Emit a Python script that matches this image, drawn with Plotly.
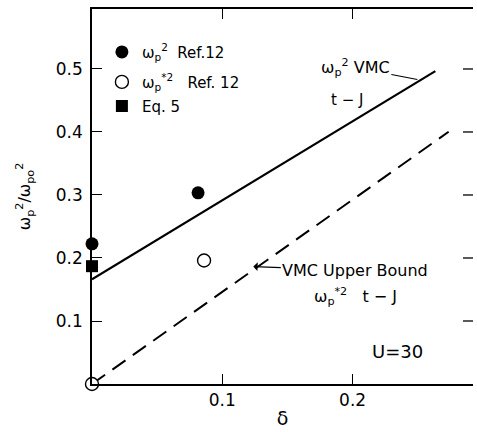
import plotly.graph_objects as go

# ---- data ----
ref12_delta = [0.0, 0.0814]
ref12_w2 = [0.2225, 0.3035]
ref12_star_delta = [0.0, 0.086]
ref12_star_w2 = [0.0, 0.196]
eq5_delta = [0.0]
eq5_w2 = [0.187]
vmc_delta = [0.0, 0.2635]
vmc_w2 = [0.166, 0.4965]
bound_delta = [0.0, 0.2737]
bound_w2 = [0.0, 0.4003]
x_ticks = [0.1, 0.2]
x_ticktext = ["0.1", "0.2"]
y_ticks = [0.1, 0.2, 0.3, 0.4, 0.5]
y_ticktext = ["0.1", "0.2", "0.3", "0.4", "0.5"]

FONT = "DejaVu Sans"
BLACK = "black"
PLOT_W = 381  # plot-area width in px (477 - 92 - 4)

fig = go.Figure()

fig.add_trace(go.Scatter(x=vmc_delta, y=vmc_w2, mode="lines",
                         line=dict(color=BLACK, width=2.2), showlegend=False,
                         cliponaxis=False))
fig.add_trace(go.Scatter(x=bound_delta, y=bound_w2, mode="lines",
                         line=dict(color=BLACK, width=2.0, dash="16px,9px"),
                         showlegend=False, cliponaxis=False))
fig.add_trace(go.Scatter(x=ref12_delta, y=ref12_w2, mode="markers", legend="legend",
                         marker=dict(symbol="circle", size=13, color=BLACK),
                         name="ω<sub>p</sub><sup>2</sup>\u00a0\u00a0Ref.12", cliponaxis=False))
fig.add_trace(go.Scatter(x=ref12_star_delta, y=ref12_star_w2, mode="markers",
                         legend="legend2",
                         marker=dict(symbol="circle", size=13, color="white",
                                     line=dict(color=BLACK, width=1.4)),
                         name="ω<sub>p</sub><sup>*2</sup>\u00a0\u00a0\u00a0Ref. 12", cliponaxis=False))
fig.add_trace(go.Scatter(x=eq5_delta, y=eq5_w2, mode="markers", legend="legend3",
                         marker=dict(symbol="square", size=12, color=BLACK),
                         name="Eq. 5", cliponaxis=False))

ax_common = dict(color=BLACK, linecolor=BLACK, linewidth=1.5, ticks="inside",
                 ticklen=10, tickwidth=1.3, tickcolor=BLACK, showgrid=False,
                 zeroline=False, tickfont=dict(family=FONT, size=17, color=BLACK))

leg_common = dict(xanchor="left", yanchor="middle", bgcolor="rgba(0,0,0,0)",
                  borderwidth=0, font=dict(family=FONT, size=15, color=BLACK),
                  itemsizing="trace")

# right-hand tick marks (no spine on that side), one per y tick value
right_ticks = [dict(type="line", xref="paper", yref="y", x0=1 - 10 / PLOT_W, x1=1,
                    y0=v, y1=v, line=dict(color=BLACK, width=1.3))
               for v in y_ticks]

fig.update_layout(
    width=477, height=432,
    margin=dict(l=92, r=4, t=9, b=48),
    paper_bgcolor="white", plot_bgcolor="white",
    font=dict(family=FONT, size=16, color=BLACK),
    xaxis=dict(range=[0, 0.2924], tickvals=x_ticks, ticktext=x_ticktext,
               showline=True, mirror="ticks", ticklabelstandoff=0,
               title=dict(text="δ", font=dict(family=FONT, size=19), standoff=3),
               **ax_common),
    yaxis=dict(range=[0, 0.5952], tickvals=y_ticks, ticktext=y_ticktext,
               showline=True, mirror=False, ticklabelstandoff=4,
               title=dict(text="ω<sub>p</sub><sup>2</sup>/ω<sub>po</sub><sup>2</sup>",
                          font=dict(family=FONT, size=16), standoff=21),
               **ax_common),
    legend=dict(x=0.026, y=0.885, **leg_common),
    legend2=dict(x=0.026, y=0.805, **leg_common),
    legend3=dict(x=0.026, y=0.741, **leg_common),
    showlegend=True,
    shapes=right_ticks,
)

ann = [
    dict(x=0.2497, y=0.4833, xref="x", yref="y",
         text="ω<sub>p</sub><sup>2</sup> VMC", showarrow=True, arrowhead=0,
         arrowwidth=1.2, arrowcolor=BLACK, ax=-62, ay=-12, standoff=0,
         font=dict(family=FONT, size=16)),
    dict(x=0.196, y=0.45, xref="x", yref="y", text="t − J", showarrow=False,
         font=dict(family=FONT, size=15)),
    dict(x=0.1238, y=0.1865, xref="x", yref="y", text="VMC Upper Bound",
         showarrow=True, arrowhead=1, arrowsize=1.2, arrowwidth=1.2,
         arrowcolor=BLACK, ax=102, ay=4, standoff=0,
         font=dict(family=FONT, size=16)),
    dict(x=0.202, y=0.139, xref="x", yref="y",
         text="ω<sub>p</sub><sup>*2</sup>\u00a0\u00a0\u00a0t − J", showarrow=False,
         font=dict(family=FONT, size=16)),
    dict(x=0.2343, y=0.0516, xref="x", yref="y", text="U=30", showarrow=False,
         font=dict(family=FONT, size=18)),
]
fig.update_layout(annotations=ann)

fig.write_html("out.html", config={"displayModeBar": False},
               post_script="document.body.style.margin='0';"
                           "document.body.style.overflow='hidden';")
